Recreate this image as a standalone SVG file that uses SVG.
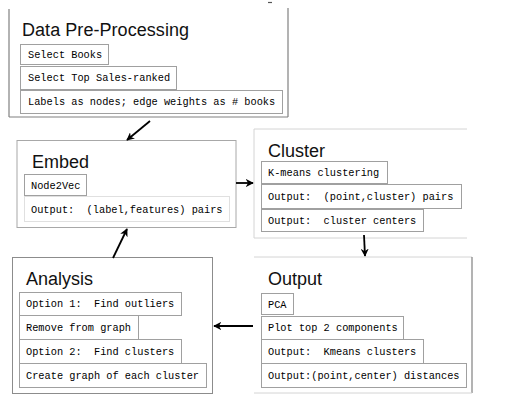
<svg xmlns="http://www.w3.org/2000/svg" width="506" height="400" viewBox="0 0 506 400">
<defs>
<marker id="ah" viewBox="0 0 10 10" refX="9" refY="5" markerWidth="4.5" markerHeight="4.5" orient="auto" markerUnits="strokeWidth">
<path d="M0,0 L10,5 L0,10 L3,5 Z" fill="#000"/>
</marker>
</defs>
<style>
.title{font-family:"Liberation Sans",Arial,sans-serif;font-size:18px;fill:#111}
.mono{font-family:"Liberation Mono","Courier New",monospace;font-size:10.3px;fill:#000;white-space:pre}
.sub{fill:#fff;stroke:#a0a0a0;stroke-width:1}
.dk{stroke:#808080;stroke-width:1.2;fill:none}
.lt{stroke:#d4d4d4;stroke-width:1;fill:none}
.arr{stroke:#000;stroke-width:1.8;fill:none;marker-end:url(#ah)}
</style>
<rect width="506" height="400" fill="#fff"/>
<line x1="268" y1="2.5" x2="272" y2="2.5" stroke="#555" stroke-width="1.2"/>

<g id="data-preprocessing">
<line class="dk" x1="9" y1="9" x2="9" y2="117"/>
<line class="dk" x1="288" y1="8" x2="288" y2="117"/>
<line class="dk" x1="9" y1="117" x2="288" y2="117"/>
<text class="title" x="22" y="36" textLength="167">Data Pre-Processing</text>
<rect class="sub" x="20.5" y="44.5" width="88" height="20"/>
<text class="mono" x="28" y="58">Select Books</text>
<rect class="sub" x="20.5" y="66.5" width="156" height="23"/>
<text class="mono" x="28" y="81">Select Top Sales-ranked</text>
<rect class="sub" x="20.5" y="90.5" width="262" height="23"/>
<text class="mono" x="28" y="105">Labels as nodes; edge weights as # books</text>
</g>

<g id="embed">
<rect x="17" y="140.5" width="219" height="87" fill="#fff" stroke="#a8a8a8" stroke-width="1"/>
<text class="title" x="32" y="168">Embed</text>
<rect class="sub" x="24.5" y="174.5" width="62" height="21"/>
<text class="mono" x="31" y="189">Node2Vec</text>
<rect x="24.5" y="196.5" width="205" height="25" fill="#fff" stroke="#e0e0e0"/>
<text class="mono" x="31" y="213" xml:space="preserve">Output:  (label,features) pairs</text>
</g>

<g id="cluster">
<line class="lt" x1="254" y1="129" x2="467" y2="129"/>
<line class="lt" x1="254" y1="129" x2="254" y2="238"/>
<line class="lt" x1="254" y1="238" x2="467" y2="238"/>
<text class="title" x="268" y="157">Cluster</text>
<rect class="sub" x="261.5" y="161.5" width="126" height="22"/>
<text class="mono" x="268" y="176">K-means clustering</text>
<rect class="sub" x="261.5" y="184.5" width="200" height="24"/>
<text class="mono" x="268" y="200" xml:space="preserve">Output:  (point,cluster) pairs</text>
<rect class="sub" x="261.5" y="209.5" width="162" height="22"/>
<text class="mono" x="268" y="224" xml:space="preserve">Output:  cluster centers</text>
</g>

<g id="output">
<line class="lt" x1="254" y1="257" x2="472" y2="257"/>
<line class="dk" x1="472" y1="257" x2="472" y2="393"/>
<line class="lt" x1="254" y1="393" x2="472" y2="393"/>
<text class="title" x="268" y="285">Output</text>
<rect class="sub" x="261.5" y="293.5" width="32" height="21"/>
<text class="mono" x="268" y="308">PCA</text>
<rect class="sub" x="261.5" y="316.5" width="142" height="23"/>
<text class="mono" x="268" y="331">Plot top 2 components</text>
<rect class="sub" x="261.5" y="339.5" width="162" height="24"/>
<text class="mono" x="268" y="355" xml:space="preserve">Output:  Kmeans clusters</text>
<rect class="sub" x="261.5" y="363.5" width="205" height="24"/>
<text class="mono" x="268" y="379">Output:(point,center) distances</text>
</g>

<g id="analysis">
<rect x="12.5" y="257.5" width="200" height="136" fill="#fff" stroke="#8c8c8c" stroke-width="1"/>
<text class="title" x="26" y="285">Analysis</text>
<rect class="sub" x="19.5" y="292.5" width="162" height="23"/>
<text class="mono" x="26" y="307" xml:space="preserve">Option 1:  Find outliers</text>
<rect class="sub" x="19.5" y="315.5" width="119" height="24"/>
<text class="mono" x="26" y="331">Remove from graph</text>
<rect class="sub" x="19.5" y="339.5" width="162" height="24"/>
<text class="mono" x="26" y="355" xml:space="preserve">Option 2:  Find clusters</text>
<rect class="sub" x="19.5" y="363.5" width="187" height="24"/>
<text class="mono" x="26" y="379">Create graph of each cluster</text>
</g>

<g id="connectors">
<line class="arr" x1="150" y1="121" x2="127" y2="140"/>
<line class="arr" x1="236" y1="183" x2="253" y2="183"/>
<line class="arr" x1="364" y1="235" x2="365" y2="256"/>
<line class="arr" x1="253" y1="326" x2="214" y2="326"/>
<line class="arr" x1="113" y1="258" x2="127" y2="229"/>
</g>
</svg>
